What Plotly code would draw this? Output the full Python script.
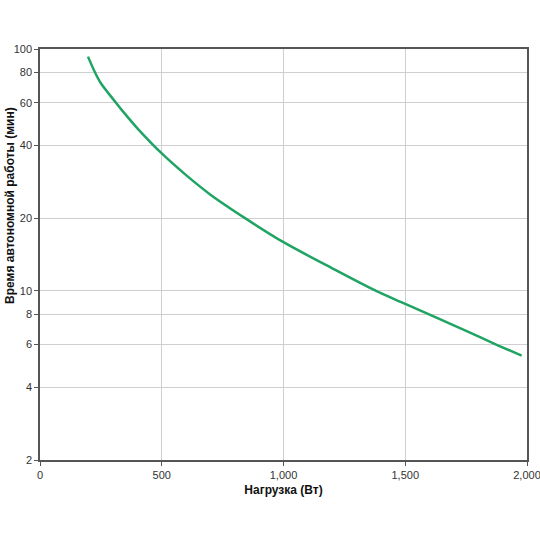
import plotly.graph_objects as go

# нагрузка (Вт) и время автономной работы (мин)
load_w = [197, 226, 250, 312, 350, 400, 500, 600, 700, 842, 1000, 1200, 1380, 1500, 1750, 1880, 1978]
runtime_min = [93, 80, 72.2, 60, 53.8, 47, 37, 30.1, 25, 20, 15.9, 12.4, 10, 8.84, 6.83, 5.96, 5.4]

y_ticks = [2, 4, 6, 8, 10, 20, 40, 60, 80, 100]
x_ticks = [0, 500, 1000, 1500, 2000]

fig = go.Figure()
fig.add_trace(go.Scatter(x=load_w, y=runtime_min, mode='lines',
                         line=dict(color='#1fa463', width=2.5, shape='spline', smoothing=0.8),
                         hoverinfo='skip', showlegend=False))

axis_font = dict(family='Liberation Sans, Arial, sans-serif', size=11, color='#333333')

fig.update_xaxes(range=[0, 2000], tickvals=x_ticks, tickformat=',',
                 showgrid=True, gridcolor='#cfcfcf', gridwidth=1,
                 showline=True, linecolor='#555555', linewidth=1.5, mirror=True,
                 ticks='outside', ticklen=4, tickcolor='#555555',
                 tickfont=axis_font, zeroline=False, automargin=False,
                 ticklabeloverflow='allow',
                 title=dict(text='<b>Нагрузка (Вт)</b>', standoff=6,
                            font=dict(family='Liberation Sans, Arial, sans-serif', size=12, color='#111111')))
fig.update_yaxes(type='log', range=[0.30103, 2], tickvals=y_ticks, ticktext=[str(v) for v in y_ticks],
                 showgrid=True, gridcolor='#cfcfcf', gridwidth=1,
                 showline=True, linecolor='#555555', linewidth=1.5, mirror=True,
                 ticks='outside', ticklen=4, tickcolor='#555555',
                 tickfont=axis_font, zeroline=False, automargin=False,
                 ticklabeloverflow='allow')

fig.add_annotation(text='<b>Время автономной работы (мин)</b>', textangle=-90,
                   xref='paper', yref='paper', x=-0.062, y=0.62, xanchor='center', yanchor='middle',
                   showarrow=False,
                   font=dict(family='Liberation Sans, Arial, sans-serif', size=12, color='#111111'))

fig.update_layout(width=540, height=540, plot_bgcolor='white', paper_bgcolor='white',
                  margin=dict(l=40, r=13, t=49, b=80))

# убираем стандартный отступ страницы, чтобы фигура встала ровно в окно
fig.write_html("out.html", config={'displayModeBar': False},
               post_script="document.body.style.margin='0';document.body.style.overflow='hidden';")
